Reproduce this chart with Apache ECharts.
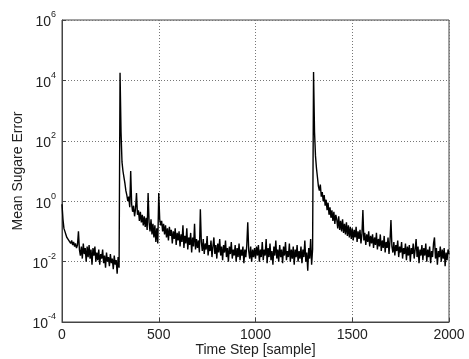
<!DOCTYPE html>
<html>
<head>
<meta charset="utf-8">
<script src="https://cdn.jsdelivr.net/npm/echarts@6/dist/echarts.min.js"></script>
<style>
html,body{margin:0;padding:0;background:#fff;}
#chart{width:469px;height:359px;}
</style>
</head>
<body>
<div id="chart"></div>
<script>
// Mean square error, as log10 values, one every 5 samples.
const sampleStep = 5;
const segA = { start: 0, log10: [
  -0.1, -0.6, -0.9, -1.0, -1.1, -1.2, -1.15, -1.3, -1.25, -1.4,
  -1.3, -1.45, -1.35, -1.5, -1.4, -1.55, -1.45, -1.0, -1.6, -1.8,
  -1.5, -1.9, -1.4, -1.75, -1.55, -2.0, -1.5, -1.85, -1.45, -1.9,
  -1.6, -2.1, -1.55, -1.8, -1.5, -2.0, -1.7, -1.95, -1.6, -2.1,
  -1.75, -1.9, -1.6, -2.05, -1.8, -2.2, -1.7, -2.0, -1.85, -2.15,
  -1.75, -2.05, -1.9, -2.25, -1.8, -2.1, -1.95, -2.4, -1.85, -2.2
]};
const segB = { start: 300, log10: [
  4.25, 2.3, 1.3, 1.0, 0.8, 0.6, 0.35, 0.2, 0.0, 0.15,
  -0.2, 1.0, -0.1, -0.35, -0.15, -0.5, -0.25, 0.27, -0.45, -0.3,
  -0.65, -0.35, -0.7, -0.45, -0.8, -0.5, -0.85, -0.55, -0.95, 0.27,
  -0.7, -1.0, -0.6, -1.1, -0.75, -1.2, -0.8, -1.35, -0.9, -1.4
]};
const segC = { start: 500, log10: [
  0.27, -0.6, -0.8, -0.65, -1.0, -0.75, -1.1, -0.8, -1.2, -0.9,
  -1.3, -0.85, -1.15, -0.95, -1.4, -1.0, -1.25, -0.9, -1.45, -1.05,
  -1.3, -1.0, -1.5, -1.1, -1.35, -0.8, -1.55, -1.15, -1.4, -0.9,
  -1.6, -1.2, -1.45, -1.05, -1.7, -1.2, -1.5, -0.75, -1.6, -1.25,
  -1.55, -1.3, -1.7, -0.27, -1.35, -1.65, -1.25, -1.75, -1.4, -1.6,
  -1.15, -1.8, -1.45, -1.65, -1.3, -1.85, -1.5, -1.2, -1.75, -1.45,
  -1.9, -1.4, -1.7, -1.25, -1.8, -1.5, -1.95, -1.45, -1.7, -1.3,
  -1.85, -1.55, -2.0, -1.5, -1.75, -1.35, -1.9, -1.6, -1.8, -1.45,
  -2.0, -1.55, -1.85, -1.4, -1.95, -1.6, -1.8, -1.5, -2.05, -1.6,
  -1.85, -1.45, -0.7, -1.65, -1.9, -1.5, -2.0, -1.6, -1.85, -1.55
]};
const segD = { start: 1000, log10: [
  -1.9, -1.5, -1.8, -1.45, -2.0, -1.6, -1.85, -1.35, -1.95, -1.6,
  -1.8, -1.25, -2.05, -1.55, -1.85, -1.4, -1.95, -1.65, -2.1, -1.5,
  -1.8, -1.3, -1.9, -1.6, -2.0, -1.45, -1.85, -1.6, -2.05, -1.5,
  -1.8, -1.35, -1.95, -1.65, -1.85, -1.4, -2.0, -1.6, -1.9, -1.5,
  -2.1, -1.6, -1.85, -1.45, -2.0, -1.65, -1.9, -1.5, -2.05, -1.6,
  -1.85, -1.3, -2.0, -1.7, -2.3, -1.55, -1.9, -1.25, -2.1, -1.6
]};
const segE = { start: 1300, log10: [
  4.28, 2.3, 1.5, 1.1, 0.8, 0.5, 0.35, 0.55, 0.15, 0.3,
  0.0, 0.2, -0.15, 0.05, -0.3, -0.05, -0.45, -0.2, -0.55, -0.3,
  -0.65, -0.35, -0.75, -0.45, -0.6, -0.9, -0.5, -0.95, -0.65, -1.0,
  -0.6, -1.05, -0.75, -1.1, -0.7, -1.15, -0.8, -1.2, -0.85, -1.25,
  -0.9, -1.3, -0.95, -1.2, -0.85, -1.35, -1.0, -1.25, -0.95, -1.4,
  -1.1, -0.29, -1.3, -1.05, -1.45, -1.1, -1.35, -1.0, -1.5, -1.15,
  -1.4, -1.1, -1.55, -1.2, -1.45, -1.05, -1.6, -1.25, -1.5, -1.1,
  -1.65, -1.3, -1.55, -1.15, -1.7, -1.35, -1.55, -1.2, -1.75, -1.3,
  -0.62, -1.5, -1.7, -1.35, -1.8, -1.45, -1.65, -1.3, -1.85, -1.5,
  -1.7, -1.35, -1.9, -1.55, -1.75, -1.4, -1.95, -1.5, -1.8, -1.45,
  -2.0, -1.55, -1.75, -1.4, -1.9, -1.6, -1.25, -1.85, -1.5, -2.05,
  -1.6, -1.8, -1.45, -1.95, -1.55, -1.8, -1.4, -2.0, -1.6, -1.85,
  -1.5, -2.05, -1.65, -1.85, -1.4, -1.2, -1.9, -1.55, -2.1, -1.65,
  -1.85, -1.5, -2.0, -1.6, -1.9, -1.55, -2.15, -1.7, -1.95, -1.6,
  -1.75
]};
const segments = [segA, segB, segC, segD, segE];

const xTicks = [0, 500, 1000, 1500, 2000];
const yMin = 1e-4, yMax = 1e6;
const xTitle = 'Time Step [sample]';
const yTitle = 'Mean Sugare Error';

const points = [];
segments.forEach(function (seg) {
  seg.log10.forEach(function (v, i) {
    points.push([seg.start + i * sampleStep, Math.pow(10, v)]);
  });
});

const font = 'Arial, "Liberation Sans", sans-serif';
const chart = echarts.init(document.getElementById('chart'), null, { renderer: 'canvas' });
chart.setOption({
  animation: false,
  backgroundColor: '#fff',
  grid: { left: 62, right: 20, top: 20, bottom: 37, outerBoundsMode: 'none', containLabel: false, show: true, borderColor: '#444', borderWidth: 1, backgroundColor: 'transparent' },
  xAxis: {
    type: 'value', min: xTicks[0], max: xTicks[xTicks.length - 1], interval: 500,
    name: xTitle, nameLocation: 'middle', nameGap: 21, nameMoveOverlap: false,
    nameTextStyle: { fontFamily: font, fontSize: 14, color: '#222' },
    axisLine: { show: true, lineStyle: { color: '#444', width: 1 } },
    axisTick: { show: true, inside: true, length: 4, lineStyle: { color: '#444' } },
    axisLabel: { fontFamily: font, fontSize: 14, color: '#222', margin: 6, formatter: function (v) { return String(v); } },
    splitLine: { show: true, lineStyle: { color: '#777', type: [1, 2], width: 1 } }
  },
  yAxis: {
    type: 'log', logBase: 10, min: yMin, max: yMax, interval: 2,
    name: yTitle, nameLocation: 'middle', nameGap: 37, nameRotate: 90, nameMoveOverlap: false,
    nameTextStyle: { fontFamily: font, fontSize: 14, color: '#222' },
    axisLine: { show: true, lineStyle: { color: '#444', width: 1 } },
    axisTick: { show: true, inside: true, length: 4, lineStyle: { color: '#444' } },
    axisLabel: {
      margin: 6,
      formatter: function (v) {
        const e = Math.round(Math.log10(v));
        return '{b|10}{s|' + e + '}';
      },
      rich: {
        b: { fontFamily: font, fontSize: 14, color: '#222', lineHeight: 19, verticalAlign: 'bottom' },
        s: { fontFamily: font, fontSize: 9, color: '#222', lineHeight: 19, verticalAlign: 'top' }
      }
    },
    splitLine: { show: true, lineStyle: { color: '#777', type: [1, 2], width: 1 } }
  },
  series: [{
    type: 'line', data: points, showSymbol: false, sampling: null,
    lineStyle: { color: '#000', width: 1.4 }, z: 3
  }]
});
</script>
</body>
</html>
